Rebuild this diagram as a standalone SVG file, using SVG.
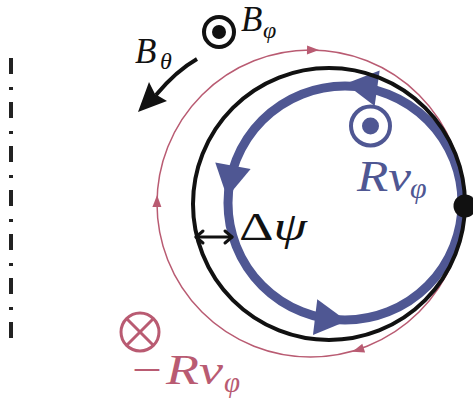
<svg xmlns="http://www.w3.org/2000/svg" width="473" height="400" viewBox="0 0 473 400">
<style>
.blue{fill:#4f5793}
.red{fill:#b95b72}
.tx{font-family:"Liberation Serif","DejaVu Serif",serif}
.it{font-style:italic}
</style>
<defs>
<path id="bhead" d="M -16,-18 L 16,0 L -16,18 Z" fill="#4f5793"/>
<path id="rhead" d="M -6,-4.5 L 6,0 L -6,4.5 Z" fill="#b95b72"/>
</defs>
<rect width="473" height="400" fill="#ffffff"/>
<g id="axis">
<line x1="11" y1="58" x2="11" y2="338" stroke="#222" stroke-width="4" stroke-dasharray="16 13 3 12"/>
</g>
<g id="connectors">
<g id="red-loop">
<circle cx="310.5" cy="203.5" r="153.5" fill="none" stroke="#b95b72" stroke-width="1.5"/>
<use href="#rhead" transform="translate(313,50) rotate(1)"/>
<use href="#rhead" transform="translate(157,201) rotate(271)"/>
<use href="#rhead" transform="translate(358,350) rotate(162)"/>
</g>
<g id="blue-loop">
<circle cx="345" cy="203" r="117" fill="none" stroke="#4f5793" stroke-width="9"/>
<use href="#bhead" transform="translate(361.3,86) rotate(-172)"/>
<use href="#bhead" transform="translate(230,181.5) rotate(100.6)"/>
<use href="#bhead" transform="translate(331,319) rotate(6.8)"/>
</g>
<g id="black-loop">
<circle cx="329" cy="204" r="136" fill="none" stroke="#111" stroke-width="4"/>
</g>
<g id="btheta-arrow">
<path d="M 197,59 Q 176,71 156,95" fill="none" stroke="#111" stroke-width="4"/>
<path d="M 138,112 L 149,82 L 155,94 L 167,101 Z" fill="#111"/>
</g>
<g id="dpsi-arrow" stroke="#111" stroke-width="3" fill="none" stroke-linecap="round" stroke-linejoin="round">
<line x1="196" y1="237" x2="232" y2="237"/>
<path d="M 203,231 L 196,237 L 203,243"/>
<path d="M 225,231 L 232,237 L 225,243"/>
</g>
</g>
<g id="dot">
<circle cx="465" cy="206" r="11.5" fill="#111"/>
</g>
<g id="b-phi">
<circle cx="219" cy="32" r="15" fill="none" stroke="#111" stroke-width="4"/>
<circle cx="219" cy="32" r="7" fill="#111"/>
<text class="tx it" x="241" y="31" font-size="35" fill="#111">B</text>
<text class="tx it" x="263" y="38" font-size="24" fill="#111">φ</text>
</g>
<g id="b-theta">
<text class="tx it" x="135" y="63" font-size="35" fill="#111">B</text>
<text class="tx it" x="160" y="69" font-size="24" fill="#111">θ</text>
</g>
<g id="rv-phi">
<circle cx="370.5" cy="126" r="19.5" fill="none" stroke="#4f5793" stroke-width="4"/>
<circle cx="370.5" cy="126" r="8.5" class="blue"/>
<text class="tx it blue" x="357" y="191" font-size="44" textLength="54" lengthAdjust="spacingAndGlyphs">Rv</text>
<text class="tx it blue" x="410" y="198" font-size="30">φ</text>
</g>
<g id="delta-psi">
<text class="tx" x="239" y="240" font-size="40" fill="#111" textLength="68" lengthAdjust="spacingAndGlyphs">Δ<tspan class="it">ψ</tspan></text>
</g>
<g id="minus-rv-phi">
<circle cx="140" cy="332" r="19" fill="none" stroke="#b95b72" stroke-width="3"/>
<line x1="126.5" y1="318.5" x2="153.5" y2="345.5" stroke="#b95b72" stroke-width="3"/>
<line x1="153.5" y1="318.5" x2="126.5" y2="345.5" stroke="#b95b72" stroke-width="3"/>
<text class="tx red" x="132" y="384" font-size="42" textLength="30" lengthAdjust="spacingAndGlyphs">−</text>
<text class="tx it red" x="166" y="384" font-size="42" textLength="57" lengthAdjust="spacingAndGlyphs">Rv</text>
<text class="tx it red" x="224" y="392" font-size="29">φ</text>
</g>
</svg>
